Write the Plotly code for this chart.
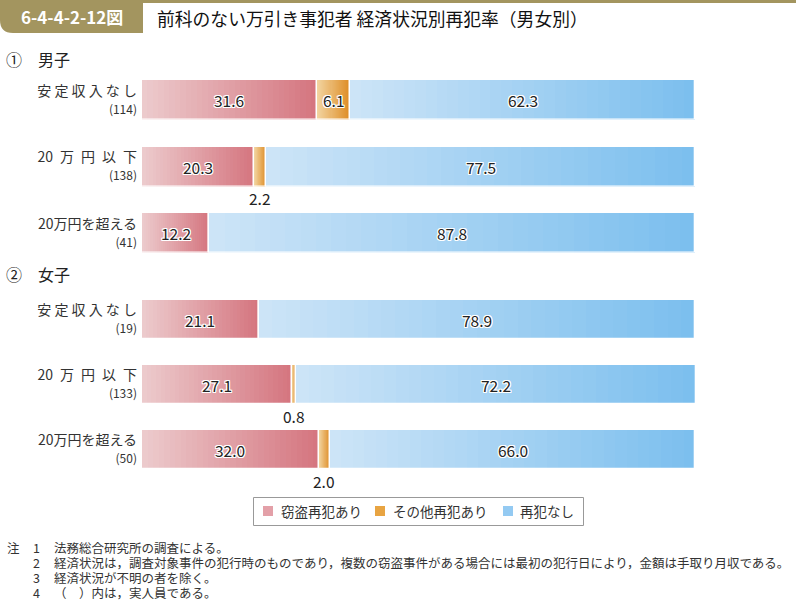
import plotly.graph_objects as go

# ---------------- data ----------------
categories = ["安 定 収 入 な し", "20\u2002万\u2002円\u2002以\u2002下", "20万円を超える"]
male_n = [114, 138, 41]
female_n = [19, 133, 50]
male_theft = [31.6, 20.3, 12.2]
male_other = [6.1, 2.2, 0.0]
male_none = [62.3, 77.5, 87.8]
female_theft = [21.1, 27.1, 32.0]
female_other = [0.0, 0.8, 2.0]
female_none = [78.9, 72.2, 66.0]
series_names = ["窃盗再犯あり", "その他再犯あり", "再犯なし"]
note_nums = ["1", "2", "3", "4"]
note_texts = [
    "法務総合研究所の調査による。",
    "経済状況は，調査対象事件の犯行時のものであり，複数の窃盗事件がある場合には最初の犯行日により，金額は手取り月収である。",
    "経済状況が不明の者を除く。",
    "（　）内は，実人員である。",
]

# ---------------- style ----------------
W, H = 796, 604
ML, MR, MT, MB = 142, 101, 0, 0
PW = W - ML - MR
FONT = "Noto Sans CJK JP"
grad = [
    ((236, 202, 204), (213, 118, 128)),   # theft
    ((242, 212, 160), (222, 140, 36)),    # other
    ((204, 228, 247), (124, 191, 238)),   # none
]
legend_cols = ["#e3a0a8", "#e8a442", "#94caf2"]
N = 32


def px(x):
    return (x - ML) / PW


def py(y):
    return 1 - y / H


def lerp(c1, c2, t):
    return "rgb(%d,%d,%d)" % tuple(round(a + (b - a) * t) for a, b in zip(c1, c2))


fig = go.Figure()


def add_group(yref, theft, other, none):
    vals = [theft, other, none]
    ypos = list(range(len(categories)))
    starts = [[0.0] * len(ypos)]
    for s in range(1, 3):
        starts.append([a + b for a, b in zip(starts[s - 1], vals[s - 1])])
    for s in range(3):
        for k in range(N):
            t = k / (N - 1)
            fig.add_trace(go.Bar(
                orientation="h", y=ypos,
                x=[v * (N - k) / N for v in vals[s]],
                base=[st + v * k / N for st, v in zip(starts[s], vals[s])],
                marker=dict(color=lerp(grad[s][0], grad[s][1], t), line=dict(width=0)),
                width=0.6, yaxis=yref, xaxis="x",
                showlegend=False, hoverinfo="skip",
            ))
    # white separators
    for s in range(3):
        fig.add_trace(go.Bar(
            orientation="h", y=ypos, x=vals[s], base=starts[s],
            marker=dict(color="rgba(0,0,0,0)", line=dict(color="white", width=1.3)),
            width=0.6, yaxis=yref, xaxis="x", showlegend=False, hoverinfo="skip",
        ))
    yr = "y" if yref == "y" else "y2"
    shadow = "1px 1px 0 #fff, -1px -1px 0 #fff, 1px -1px 0 #fff, -1px 1px 0 #fff, 0 1px 0 #fff, 0 -1px 0 #fff, 1px 0 0 #fff, -1px 0 0 #fff"
    for s in range(3):
        for i, v in enumerate(vals[s]):
            if v <= 0:
                continue
            cx = starts[s][i] + v / 2
            if v >= 4:
                fig.add_annotation(x=cx, y=i, xref="x", yref=yr, text=f"{v:.1f}",
                                   showarrow=False, xanchor="center", yanchor="middle",
                                   font=dict(family=FONT, size=15.5, color="#222", shadow=shadow))
            else:
                fig.add_annotation(x=cx, y=i + 0.3, xref="x", yref=yr, text=f"{v:.1f}",
                                   showarrow=False, xanchor="center", yanchor="top", yshift=1,
                                   font=dict(family=FONT, size=15.5, color="#222"))


add_group("y", male_theft, male_other, male_none)
add_group("y2", female_theft, female_other, female_none)


def ticks(ns):
    return [f"{c}<br><span style='font-size:12px'>({n})</span>" for c, n in zip(categories, ns)]


m_top, m_step = 100 - 66.5 / 2, 66.5
f_top, f_step = 319.5 - 65 / 2, 65

fig.update_layout(
    width=W, height=H, margin=dict(l=ML, r=MR, t=MT, b=MB),
    paper_bgcolor="white", plot_bgcolor="white",
    barmode="overlay", bargap=0, showlegend=False,
    font=dict(family=FONT, color="#333"),
    xaxis=dict(range=[0, 100], visible=False, fixedrange=True),
    yaxis=dict(domain=[py(m_top + 3 * m_step), py(m_top)], range=[2.5, -0.5],
               tickvals=[0, 1, 2], ticktext=ticks(male_n), showgrid=False,
               zeroline=False, showline=False, ticks="", ticklabelstandoff=4,
               tickfont=dict(family=FONT, size=14, color="#333")),
    yaxis2=dict(domain=[py(f_top + 3 * f_step), py(f_top)], range=[2.5, -0.5],
                tickvals=[0, 1, 2], ticktext=ticks(female_n), showgrid=False,
                zeroline=False, showline=False, ticks="", anchor="x", ticklabelstandoff=4,
                tickfont=dict(family=FONT, size=14, color="#333")),
)

olive = "#a3955f"
shapes = [
    dict(type="path", xref="paper", yref="paper",
         path=(f"M {px(0)},{py(0)} L {px(143)},{py(0)} L {px(143)},{py(33)} "
               f"L {px(13)},{py(33)} Q {px(0)},{py(33)} {px(0)},{py(20)} Z"),
         fillcolor=olive, line=dict(width=0)),
    dict(type="rect", xref="paper", yref="paper", x0=px(143), x1=px(796), y0=py(3), y1=py(0),
         fillcolor=olive, line=dict(width=0)),
    # legend frame
    dict(type="rect", xref="paper", yref="paper", x0=px(253.5), x1=px(583.5), y0=py(525.5), y1=py(497.5),
         fillcolor="white", line=dict(color="#999", width=1)),
]
# legend keys
leg_sq_x = [263, 375, 503]
leg_tx_x = [279, 391, 518]
for s in range(3):
    shapes.append(dict(type="rect", xref="paper", yref="paper",
                       x0=px(leg_sq_x[s]), x1=px(leg_sq_x[s] + 10), y0=py(516), y1=py(506),
                       fillcolor=legend_cols[s], line=dict(width=0)))
fig.update_layout(shapes=shapes)

ann = [
    dict(x=px(72), y=py(17), text="<b>6-4-4-2-12図</b>", xanchor="center",
         font=dict(family=FONT, size=17, color="white")),
    dict(x=px(155), y=py(18), text="前科のない万引き事犯者 経済状況別再犯率（男女別）", xanchor="left",
         font=dict(family=FONT, size=17.8, color="#111")),
    dict(x=px(4), y=py(59), text="①", xanchor="left", font=dict(family=FONT, size=16, color="#222")),
    dict(x=px(36), y=py(59), text="男子", xanchor="left", font=dict(family=FONT, size=16, color="#222")),
    dict(x=px(4), y=py(274), text="②", xanchor="left", font=dict(family=FONT, size=16, color="#222")),
    dict(x=px(36), y=py(274), text="女子", xanchor="left", font=dict(family=FONT, size=16, color="#222")),
]
for s in range(3):
    ann.append(dict(x=px(leg_tx_x[s]), y=py(511), text=series_names[s], xanchor="left",
                    font=dict(family=FONT, size=13.5, color="#333")))
nf = dict(family=FONT, size=12.5, color="#333")
for i, (n, t) in enumerate(zip(note_nums, note_texts)):
    yy = py(547 + i * 15.3)
    if i == 0:
        ann.append(dict(x=px(5), y=yy, text="注", xanchor="left", font=nf))
    ann.append(dict(x=px(31), y=yy, text=n, xanchor="left", font=nf))
    ann.append(dict(x=px(52), y=yy, text=t, xanchor="left", font=nf))
for a in ann:
    a.update(xref="paper", yref="paper", showarrow=False, yanchor="middle")
    fig.add_annotation(**a)

fig.write_html("out.html", config={"displayModeBar": False},
               post_script="document.body.style.margin='0';document.body.style.overflow='hidden';")
